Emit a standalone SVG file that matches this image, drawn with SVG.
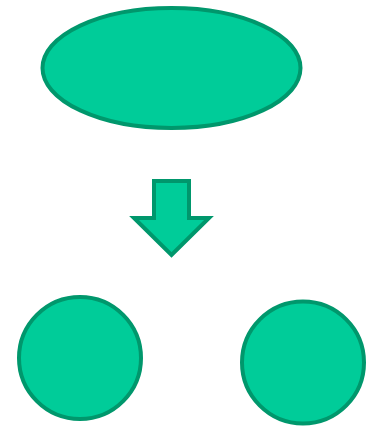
<svg xmlns="http://www.w3.org/2000/svg" width="376" height="426" viewBox="0 0 376 426">
<style>.s{fill:#00CC99;stroke:#00976C;stroke-width:4}</style>
<rect width="376" height="426" fill="#ffffff"/>
<g id="top"><ellipse class="s" cx="171.5" cy="68" rx="129" ry="60"/></g>
<g id="connectors"><path class="s" d="M154,181 H189 V218 H209 L171.5,255 L134,218 H154 Z" stroke-linejoin="miter"/></g>
<g id="left"><circle class="s" cx="80" cy="358" r="61"/></g>
<g id="right"><circle class="s" cx="303" cy="362.5" r="61"/></g>
</svg>
